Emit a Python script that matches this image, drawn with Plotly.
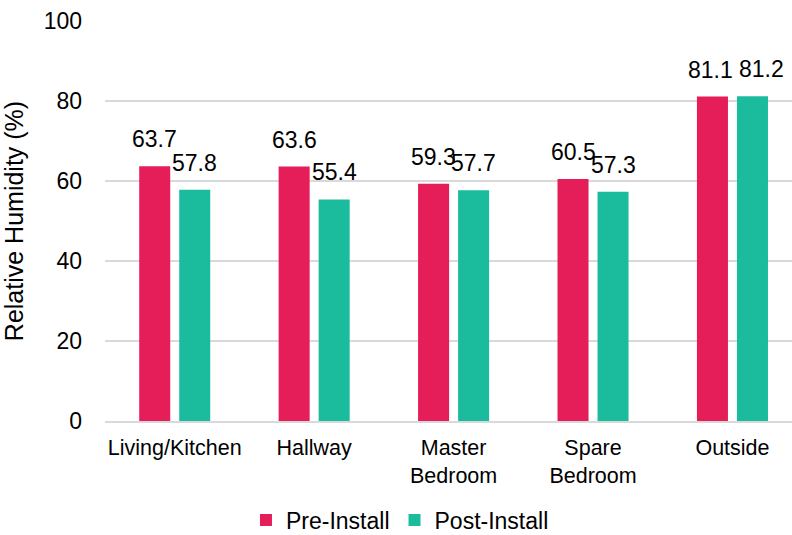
import plotly.graph_objects as go

# Relative humidity by room, before and after installation
categories = ["Living/Kitchen", "Hallway", "Master<br>Bedroom", "Spare<br>Bedroom", "Outside"]
pre_install = [63.7, 63.6, 59.3, 60.5, 81.1]
post_install = [57.8, 55.4, 57.7, 57.3, 81.2]
y_ticks = [0, 20, 40, 60, 80, 100]

PINK = "#E51D58"
TEAL = "#1BBB9E"
FONT = "Liberation Sans, Arial, sans-serif"
GRID = "#D9D9D9"

fig = go.Figure()
fig.add_trace(go.Bar(name="Pre-Install", x=categories, y=pre_install,
                     marker=dict(color=PINK, line=dict(width=0))))
fig.add_trace(go.Bar(name="Post-Install", x=categories, y=post_install,
                     marker=dict(color=TEAL, line=dict(width=0))))

# value labels above each bar; the two Outside labels are pushed apart slightly
offset_px = 20
nudge = {("post", "Outside"): 9, ("pre", "Outside"): -2}
for key, series, shift in (("pre", pre_install, -offset_px), ("post", post_install, offset_px)):
    for cat, val in zip(categories, series):
        fig.add_annotation(x=cat, y=val, text=f"{val:.1f}", showarrow=False,
                           xshift=shift + nudge.get((key, cat), 0), yshift=12,
                           yanchor="bottom",
                           font=dict(family=FONT, size=23, color="#000000"))

fig.update_layout(
    width=792, height=535,
    margin=dict(l=105, r=0, t=21, b=114),
    paper_bgcolor="white", plot_bgcolor="white",
    barmode="group", bargap=0.426, bargroupgap=0.225,
    font=dict(family=FONT, size=23, color="#000000"),
    showlegend=True,
    legend=dict(orientation="h", xref="container", yref="container",
                x=0.505, xanchor="center", y=0.028, yanchor="middle",
                font=dict(family=FONT, size=23), itemwidth=30,
                traceorder="normal"),
    xaxis=dict(range=[-0.5, 4.427], showgrid=False, showline=True,
               linecolor=GRID, linewidth=1.5, ticks="", ticklabelstandoff=6,
               tickfont=dict(family=FONT, size=21.5)),
    yaxis=dict(range=[0, 100], tickvals=y_ticks, showgrid=True, gridcolor=GRID,
               gridwidth=1.5, zeroline=False, showline=False,
               ticks="", ticklabelstandoff=22,
               tickfont=dict(family=FONT, size=23),
               title=dict(text="Relative Humidity (%)", standoff=14,
                          font=dict(family=FONT, size=25))),
)

fig.write_html("out.html")
